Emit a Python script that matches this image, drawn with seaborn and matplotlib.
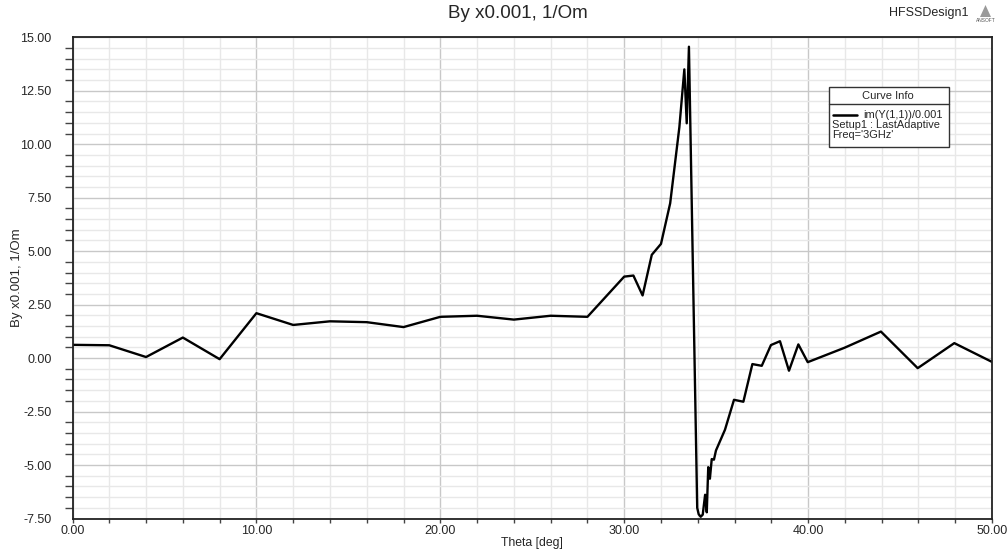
import numpy as np
import pandas as pd
import matplotlib
matplotlib.use("Agg")
import matplotlib.pyplot as plt
import seaborn as sns
from matplotlib.lines import Line2D
from matplotlib.patches import Rectangle, Polygon
from matplotlib.ticker import MultipleLocator, FormatStrFormatter

# ==============================================================================
# HFSS sweep: im(Y(1,1))/0.001 vs Theta, Setup1 : LastAdaptive, Freq='3GHz'
# ==============================================================================

theta_deg = [0, 2, 4, 6, 8, 10, 12, 14, 16, 18, 20, 22, 24, 26, 28,
             30, 30.5, 31, 31.5, 32, 32.5, 33, 33.27, 33.4, 33.52,
             33.97, 34.05, 34.16, 34.27, 34.4, 34.49, 34.57, 34.66, 34.76, 34.88, 34.99,
             35.48, 35.97, 36.48, 36.97, 37.48, 37.98, 38.47, 38.96, 39.47, 39.98,
             41.97, 43.96, 45.96, 47.95, 49.98]
im_y11 = [0.62, 0.6, 0.05, 0.96, -0.05, 2.1, 1.55, 1.72, 1.68, 1.45, 1.93, 1.98, 1.8, 1.98, 1.93,
          3.81, 3.86, 2.93, 4.83, 5.34, 7.24, 10.8, 13.5, 10.98, 14.56,
          -7.0, -7.3, -7.42, -7.32, -6.39, -7.21, -5.1, -5.64, -4.72, -4.75, -4.32,
          -3.35, -1.95, -2.04, -0.28, -0.36, 0.61, 0.79, -0.59, 0.64, -0.19,
          0.48, 1.24, -0.47, 0.7, -0.17]

title = "By x0.001, 1/Om"
x_label = "Theta [deg]"
y_label = "By x0.001, 1/Om"
legend_lines = ["im(Y(1,1))/0.001", "Setup1 : LastAdaptive", "Freq='3GHz'"]

df = pd.DataFrame({"theta": theta_deg, "val": im_y11})

sns.set_style("white")
plt.rcParams["font.family"] = ["Liberation Sans", "DejaVu Sans"]

W, H = 1008, 549
fig = plt.figure(figsize=(W / 100, H / 100), dpi=100)
ax = fig.add_axes([72.5 / W, 1 - 518.5 / H, (992 - 72.5) / W, (518.5 - 37.3) / H])

ax.set_xlim(0, 50)
ax.set_ylim(-7.5, 15)
ax.xaxis.set_major_locator(MultipleLocator(10))
ax.xaxis.set_minor_locator(MultipleLocator(2))
ax.yaxis.set_major_locator(MultipleLocator(2.5))
ax.yaxis.set_minor_locator(MultipleLocator(0.5))
ax.xaxis.set_major_formatter(FormatStrFormatter("%.2f"))
ax.yaxis.set_major_formatter(FormatStrFormatter("%.2f"))
ax.grid(which="major", color="#c8c8c8", lw=1.0)
ax.grid(which="minor", color="#e8e8e8", lw=1.0)
ax.set_axisbelow(True)

sns.lineplot(data=df, x="theta", y="val", ax=ax, color="black", lw=1.7,
             estimator=None, sort=False, legend=False)
ax.set_xlim(0, 50)
ax.set_ylim(-7.5, 15)

for s in ax.spines.values():
    s.set_color("#222222")
    s.set_linewidth(1.3)

ax.tick_params(axis="y", which="major", direction="out", length=11, width=1.0,
               color="#444444", labelsize=9, pad=4)
ax.tick_params(axis="y", which="minor", direction="out", length=5.5, width=1.0,
               color="#444444", left=True)
ax.tick_params(axis="x", which="both", direction="out", length=3, width=1.0,
               color="#444444", labelsize=9, pad=2, bottom=True)

ax.set_xlabel(x_label, fontsize=8.8, labelpad=0)
ax.set_ylabel(y_label, fontsize=9.5, labelpad=-2)

fig.text(518 / W, 1 - 13 / H, title, ha="center", va="center", fontsize=13.5)
fig.text(929 / W, 1 - 13 / H, "HFSSDesign1", ha="center", va="center", fontsize=9)

# little ANSOFT logo
fig.patches.append(Polygon([[980 / W, 1 - 17 / H], [991 / W, 1 - 17 / H], [985.5 / W, 1 - 5 / H]],
                           closed=True, transform=fig.transFigure, facecolor="#9a9a9a",
                           edgecolor="none"))
fig.text(985.5 / W, 1 - 20 / H, "ANSOFT", ha="center", va="center", fontsize=3.5, color="#555555")

# Curve Info box (drawn by hand to copy the HFSS style)
def fx(px):
    return px / W

def fy(py):
    return 1 - py / H

fig.patches.append(Rectangle((fx(829), fy(147)), fx(949) - fx(829), fy(87) - fy(147),
                             transform=fig.transFigure, facecolor="white",
                             edgecolor="#333333", lw=1.0, zorder=5))
fig.lines.append(Line2D([fx(829), fx(949)], [fy(104), fy(104)], transform=fig.transFigure,
                        color="#333333", lw=1.0, zorder=6))
fig.text(fx(888), fy(96.5), "Curve Info", ha="center", va="center", fontsize=8, zorder=7)
fig.lines.append(Line2D([fx(833), fx(857)], [fy(115), fy(115)], transform=fig.transFigure,
                        color="black", lw=1.8, zorder=6))
fig.text(fx(863), fy(115), legend_lines[0], ha="left", va="center", fontsize=7.9, zorder=7)
fig.text(fx(832), fy(125), legend_lines[1], ha="left", va="center", fontsize=7.9, zorder=7)
fig.text(fx(832), fy(135), legend_lines[2], ha="left", va="center", fontsize=7.9, zorder=7)

fig.savefig("out.png", dpi=100)
